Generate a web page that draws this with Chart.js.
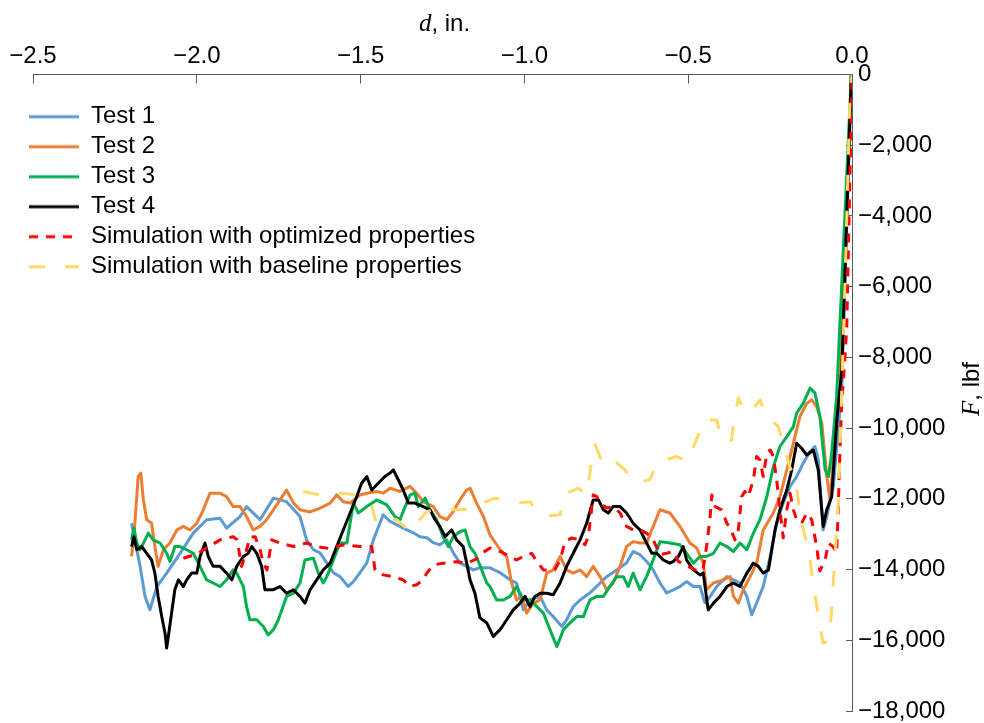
<!DOCTYPE html>
<html>
<head>
<meta charset="utf-8">
<script src="https://cdn.jsdelivr.net/npm/chart.js@4"></script>
<style>
  html, body { margin: 0; padding: 0; background: #ffffff; }
  #wrap { width: 984px; height: 723px; position: relative; }
</style>
</head>
<body>
<div id="wrap"><canvas id="c" width="984" height="723"></canvas></div>
<script>
// ---------------- DATA (d in inches, F in lbf) ----------------
const seriesLabels = ['Test 1', 'Test 2', 'Test 3', 'Test 4',
  'Simulation with optimized properties', 'Simulation with baseline properties'];

const xTickValues = [-2.5, -2.0, -1.5, -1.0, -0.5, 0.0];
const yTickValues = [0, -2000, -4000, -6000, -8000, -10000, -12000, -14000, -16000, -18000];

const test1D = [
  -2.199, -2.173, -2.158, -2.143, -2.122, -2.092, -2.051, -2.011, -1.970, -1.929,
  -1.909, -1.868, -1.848, -1.807, -1.766, -1.726, -1.685, -1.665, -1.644, -1.624,
  -1.603, -1.583, -1.563, -1.538, -1.522, -1.502, -1.481, -1.461, -1.431, -1.410,
  -1.380, -1.359, -1.339, -1.319, -1.298, -1.278, -1.258, -1.237, -1.217, -1.197,
  -1.176, -1.156, -1.136, -1.105, -1.074, -1.044, -1.024, -1.003, -0.983, -0.952,
  -0.932, -0.912, -0.886, -0.871, -0.851, -0.830, -0.800, -0.769, -0.749, -0.718,
  -0.688, -0.668, -0.647, -0.627, -0.607, -0.586, -0.566, -0.556, -0.525, -0.505,
  -0.484, -0.464, -0.449, -0.433, -0.413, -0.382, -0.342, -0.321, -0.306, -0.291,
  -0.271, -0.250, -0.230, -0.210, -0.189, -0.169, -0.149, -0.128, -0.113, -0.103,
  -0.088, -0.077, -0.057, -0.042, -0.031, -0.002];
const test1F = [
  -12690, -13910, -14760, -15140, -14480, -14100, -13540, -12970, -12590, -12550,
  -12830, -12500, -12220, -12590, -11980, -12080, -12500, -13160, -13440, -13530,
  -13810, -14090, -14200, -14480, -14340, -14090, -13810, -13160, -12450, -12640,
  -12780, -12880, -12960, -13070, -13100, -13240, -13300, -13160, -13530, -13810,
  -13910, -14010, -13950, -13950, -14090, -14290, -14380, -15140, -14860, -14760,
  -15140, -15330, -15610, -15420, -15050, -14860, -14660, -14380, -14200, -14010,
  -13810, -13490, -13580, -13770, -14010, -14380, -14660, -14620, -14480, -14340,
  -14480, -14480, -14940, -14760, -14480, -14200, -14380, -14760, -15280, -14940,
  -14480, -13630, -12690, -12120, -11650, -11370, -10990, -10660, -10520, -10900,
  -12880, -12500, -11650, -10050, -8830, 0];

const test2D = [
  -2.199, -2.189, -2.179, -2.171, -2.163, -2.153, -2.138, -2.128, -2.118, -2.102,
  -2.082, -2.061, -2.041, -2.021, -2.000, -1.980, -1.960, -1.929, -1.909, -1.889,
  -1.868, -1.848, -1.828, -1.807, -1.787, -1.766, -1.746, -1.726, -1.705, -1.685,
  -1.654, -1.624, -1.593, -1.573, -1.553, -1.532, -1.502, -1.481, -1.451, -1.431,
  -1.410, -1.380, -1.349, -1.329, -1.309, -1.278, -1.258, -1.237, -1.217, -1.197,
  -1.176, -1.166, -1.146, -1.125, -1.105, -1.074, -1.054, -1.039, -1.024, -1.008,
  -0.993, -0.973, -0.952, -0.932, -0.912, -0.891, -0.871, -0.851, -0.830, -0.810,
  -0.790, -0.769, -0.749, -0.729, -0.708, -0.688, -0.668, -0.647, -0.627, -0.607,
  -0.586, -0.556, -0.525, -0.495, -0.474, -0.454, -0.444, -0.423, -0.393, -0.372,
  -0.362, -0.347, -0.332, -0.311, -0.291, -0.271, -0.240, -0.220, -0.199, -0.179,
  -0.159, -0.138, -0.123, -0.108, -0.092, -0.077, -0.067, -0.052, -0.037, -0.002];
const test2F = [
  -13630, -12690, -11370, -11270, -12030, -12590, -12690, -13350, -13910, -13440,
  -13250, -12880, -12780, -12880, -12690, -12310, -11840, -11840, -11940, -12220,
  -12220, -12500, -12880, -12780, -12590, -12310, -12030, -11750, -12120, -12310,
  -12370, -12260, -12120, -11890, -12080, -12120, -11890, -11840, -11790, -11840,
  -11700, -11790, -11650, -11840, -12080, -12220, -12500, -12590, -12360, -12030,
  -11750, -11700, -12120, -12500, -13020, -13440, -13630, -14380, -14860, -14760,
  -15230, -14950, -14860, -14100, -14010, -13630, -14010, -14100, -14010, -14200,
  -13910, -14200, -14570, -14380, -13910, -13350, -13210, -13250, -13250, -12780,
  -12310, -12400, -12780, -13250, -13390, -13820, -14570, -14380, -14290, -14200,
  -14760, -14950, -14570, -14200, -13820, -12880, -12400, -11940, -11180, -10430,
  -9670, -9300, -9200, -9390, -9860, -11370, -12030, -10240, -8830, 0];

const test3D = [
  -2.199, -2.192, -2.183, -2.173, -2.158, -2.148, -2.133, -2.112, -2.092, -2.082,
  -2.067, -2.051, -2.031, -2.011, -1.990, -1.970, -1.950, -1.929, -1.909, -1.889,
  -1.878, -1.858, -1.848, -1.838, -1.817, -1.797, -1.782, -1.766, -1.751, -1.726,
  -1.705, -1.685, -1.670, -1.644, -1.629, -1.614, -1.603, -1.583, -1.563, -1.542,
  -1.522, -1.507, -1.481, -1.451, -1.420, -1.395, -1.380, -1.364, -1.349, -1.334,
  -1.324, -1.303, -1.288, -1.268, -1.248, -1.232, -1.217, -1.197, -1.181, -1.166,
  -1.151, -1.136, -1.115, -1.105, -1.085, -1.064, -1.044, -1.024, -1.003, -0.983,
  -0.962, -0.942, -0.922, -0.901, -0.881, -0.861, -0.840, -0.820, -0.800, -0.779,
  -0.759, -0.739, -0.718, -0.698, -0.683, -0.668, -0.647, -0.627, -0.607, -0.586,
  -0.556, -0.525, -0.505, -0.484, -0.464, -0.444, -0.423, -0.403, -0.382, -0.362,
  -0.342, -0.321, -0.301, -0.281, -0.260, -0.240, -0.220, -0.199, -0.179, -0.169,
  -0.149, -0.128, -0.113, -0.098, -0.082, -0.072, -0.062, -0.047, -0.002];
const test3F = [
  -13160, -12830, -13250, -13440, -13160, -12970, -13160, -13250, -13540, -13770,
  -13350, -13350, -13440, -13540, -13910, -14290, -14380, -14480, -14290, -14010,
  -14100, -14480, -15050, -15420, -15420, -15610, -15850, -15700, -15420, -14760,
  -14670, -14380, -13730, -13680, -14100, -14380, -14200, -13730, -13250, -13250,
  -12120, -12400, -12220, -12030, -12170, -12500, -12590, -12220, -11890, -11840,
  -12220, -11980, -12310, -12590, -13070, -13350, -13070, -12930, -12880, -13350,
  -13540, -13870, -14380, -14480, -14860, -14860, -14760, -14480, -14860, -14860,
  -15050, -15230, -15700, -16180, -15700, -15510, -15330, -15330, -14860, -14760,
  -14760, -14480, -14200, -14200, -14480, -14100, -14570, -14200, -13730, -13210,
  -13250, -13300, -13540, -13820, -13630, -13630, -13540, -13250, -13350, -13490,
  -13250, -13440, -12970, -12590, -11940, -11090, -10520, -10240, -9960, -9580,
  -9300, -8870, -9010, -9670, -11180, -11370, -10710, -9110, 0];

const test4D = [
  -2.199, -2.192, -2.183, -2.168, -2.153, -2.138, -2.128, -2.118, -2.107, -2.097,
  -2.092, -2.084, -2.077, -2.067, -2.056, -2.041, -2.031, -2.016, -2.000, -1.990,
  -1.975, -1.965, -1.950, -1.929, -1.909, -1.893, -1.878, -1.858, -1.843, -1.832,
  -1.817, -1.802, -1.792, -1.766, -1.746, -1.726, -1.705, -1.685, -1.670, -1.654,
  -1.634, -1.614, -1.593, -1.573, -1.553, -1.532, -1.512, -1.497, -1.481, -1.466,
  -1.446, -1.426, -1.410, -1.400, -1.385, -1.370, -1.354, -1.334, -1.309, -1.288,
  -1.273, -1.258, -1.242, -1.222, -1.207, -1.187, -1.176, -1.166, -1.151, -1.136,
  -1.115, -1.095, -1.074, -1.054, -1.034, -1.013, -0.998, -0.983, -0.968, -0.952,
  -0.932, -0.912, -0.891, -0.871, -0.851, -0.830, -0.810, -0.790, -0.774, -0.759,
  -0.744, -0.729, -0.708, -0.688, -0.668, -0.647, -0.627, -0.611, -0.596, -0.576,
  -0.556, -0.545, -0.530, -0.515, -0.505, -0.484, -0.464, -0.454, -0.439, -0.423,
  -0.403, -0.382, -0.362, -0.342, -0.321, -0.301, -0.286, -0.271, -0.255, -0.235,
  -0.220, -0.199, -0.184, -0.169, -0.154, -0.138, -0.118, -0.103, -0.088, -0.077,
  -0.062, -0.047, -0.031, -0.002];
const test4F = [
  -13350, -13070, -13440, -13350, -13540, -13730, -14100, -14760, -15330, -15800,
  -16220, -15700, -15230, -14570, -14290, -14480, -14290, -14100, -14100, -13630,
  -13250, -13630, -13910, -13910, -14100, -14290, -13910, -13630, -13540, -13350,
  -13540, -13910, -14570, -14570, -14480, -14670, -14570, -14760, -14950, -14570,
  -14290, -14010, -13820, -13350, -12880, -12400, -11940, -11560, -11370, -11750,
  -11560, -11370, -11270, -11180, -11460, -11750, -12120, -12120, -12220, -12310,
  -12590, -12780, -13070, -12880, -13160, -13350, -13820, -14290, -14670, -15360,
  -15510, -15890, -15700, -15420, -15140, -14950, -14760, -15050, -14760, -14670,
  -14670, -14710, -14380, -13910, -13540, -13160, -12690, -12030, -12030, -12310,
  -12400, -12220, -12220, -12400, -12690, -12880, -13250, -13540, -13540, -13730,
  -13820, -13770, -13630, -13350, -13730, -14010, -14150, -14100, -15140, -14950,
  -14760, -14480, -14380, -14480, -14100, -13820, -13910, -14100, -14010, -12880,
  -12310, -11750, -11180, -10430, -10570, -10760, -10620, -11180, -12780, -12310,
  -11940, -9860, -8350, 0];

const simOptD = [
  -2.041, -2.000, -1.970, -1.929, -1.889, -1.877, -1.863, -1.848, -1.838, -1.822,
  -1.807, -1.797, -1.786, -1.771, -1.746, -1.705, -1.665, -1.634, -1.593, -1.553,
  -1.502, -1.466, -1.456, -1.431, -1.400, -1.370, -1.349, -1.329, -1.309, -1.298,
  -1.278, -1.248, -1.207, -1.176, -1.146, -1.130, -1.105, -1.074, -1.044, -1.024,
  -1.003, -0.978, -0.962, -0.942, -0.907, -0.891, -0.876, -0.856, -0.830, -0.815,
  -0.805, -0.795, -0.790, -0.779, -0.769, -0.749, -0.729, -0.708, -0.688, -0.668,
  -0.647, -0.627, -0.607, -0.586, -0.566, -0.545, -0.530, -0.510, -0.489, -0.469,
  -0.454, -0.444, -0.433, -0.428, -0.418, -0.398, -0.382, -0.372, -0.357, -0.347,
  -0.337, -0.327, -0.317, -0.301, -0.291, -0.281, -0.271, -0.260, -0.250, -0.240,
  -0.230, -0.220, -0.210, -0.199, -0.189, -0.179, -0.169, -0.154, -0.138, -0.123,
  -0.108, -0.098, -0.082, -0.072, -0.057, -0.047, -0.042, -0.037, -0.031, -0.026,
  -0.016, -0.011, -0.001, 0.0];
const simOptF = [
  -13680, -13560, -13390, -13160, -13070, -13160, -13910, -13440, -13080, -13070,
  -13440, -13820, -14010, -13160, -13250, -13350, -13250, -13350, -13410, -13300,
  -13350, -13350, -14010, -14150, -14200, -14290, -14480, -14430, -14290, -14100,
  -13870, -13820, -13780, -13820, -13700, -13540, -13390, -13490, -13630, -13730,
  -13630, -13540, -13770, -14010, -14010, -13730, -13210, -13110, -13160, -13300,
  -13070, -12310, -11890, -11940, -12120, -12260, -12220, -12400, -12780, -12880,
  -12880, -12970, -13160, -13580, -13540, -13490, -13770, -13870, -13960, -14060,
  -13960, -13350, -12500, -11890, -12220, -12310, -12690, -12830, -13160, -12880,
  -11940, -11790, -11940, -11460, -10800, -10900, -11370, -10710, -10620, -10800,
  -11460, -12310, -13100, -12310, -11840, -12310, -12590, -12690, -12400, -12590,
  -13350, -14040, -13730, -13250, -13360, -13530, -12310, -10710, -9200, -8640,
  -7140, -4880, -620, 0];

const simBaseD = [
  -1.675, -1.624, -1.593, -1.553, -1.512, -1.487, -1.466, -1.451, -1.426, -1.390,
  -1.349, -1.325, -1.298, -1.268, -1.242, -1.217, -1.146, -1.120, -1.090, -1.044,
  -1.013, -0.983, -0.958, -0.922, -0.891, -0.881, -0.861, -0.835, -0.810, -0.803,
  -0.795, -0.784, -0.775, -0.764, -0.748, -0.729, -0.711, -0.693, -0.672, -0.647,
  -0.617, -0.596, -0.568, -0.535, -0.505, -0.488, -0.469, -0.459, -0.437, -0.413,
  -0.398, -0.382, -0.367, -0.362, -0.354, -0.347, -0.337, -0.324, -0.311, -0.281,
  -0.272, -0.260, -0.225, -0.214, -0.205, -0.189, -0.174, -0.164, -0.154, -0.138,
  -0.128, -0.118, -0.108, -0.098, -0.088, -0.076, -0.067, -0.061, -0.057, -0.052,
  -0.047, -0.042, -0.037, -0.021, -0.006, 0.0];
const simBaseF = [
  -11790, -11890, -11860, -11840, -11890, -12030, -12220, -12710, -12650, -12590,
  -12930, -12650, -12360, -12310, -12310, -12310, -12280, -12090, -11980, -12080,
  -12110, -12080, -12400, -12480, -12450, -11940, -11800, -11700, -11890, -11460,
  -10950, -10470, -10670, -10950, -10840, -10850, -11040, -11180, -11460, -11520,
  -11460, -10990, -10900, -10800, -10950, -10620, -10190, -9820, -9770, -9770,
  -10330, -10390, -10330, -9860, -9480, -9150, -9340, -9480, -9580, -9200,
  -9430, -9680, -9960, -10330, -10620, -11120, -11370, -12030, -12690, -13250,
  -13730, -14430, -15000, -15620, -16080, -16040, -15700, -15000, -14290, -13730,
  -12790, -12170, -10710, -5720, -520, 0];

// ---------------- helpers ----------------
function zip(ds, fs) { return ds.map((d, i) => ({ x: d, y: fs[i] })); }
const MINUS = '\u2212';
function fmtX(v) { return v === 0 ? '0.0' : MINUS + Math.abs(v).toFixed(1); }
function fmtY(v) { return v === 0 ? '0' : MINUS + Math.abs(v).toLocaleString('en-US'); }

const AXIS = '#595959';
const SANS = "'Liberation Sans', Arial, sans-serif";
const LINE_W = 3;
const SWATCH_W = 50;
Chart.defaults.font.family = SANS;
Chart.defaults.color = '#000000';

// small legend swatch (a line sample in the dataset's own style)
function swatch(color, dash, width) {
  const c = document.createElement('canvas');
  c.width = SWATCH_W; c.height = 8;
  const g = c.getContext('2d');
  g.strokeStyle = color; g.lineWidth = width; g.lineCap = 'butt';
  g.setLineDash(dash);
  g.beginPath(); g.moveTo(0, 4); g.lineTo(SWATCH_W, 4); g.stroke();
  return c;
}

function lineDs(label, data, color, order, dash) {
  return {
    label, data, order,
    borderColor: color, backgroundColor: color,
    borderWidth: LINE_W, borderDash: dash,
    borderCapStyle: 'butt', borderJoinStyle: 'round',
    pointStyle: swatch(color, dash, LINE_W),
    pointRadius: 0, pointHoverRadius: 0, tension: 0, fill: false
  };
}

const overlayPlugin = {
  id: 'overlay',
  afterLayout(chart) {
    const lg = chart.legend;
    if (lg) {
      lg.left = 23; lg.top = 98.7;
      lg.width = 540; lg.right = lg.left + 540;
      lg.bottom = chart.chartArea.bottom; lg.height = lg.bottom - lg.top;
    }
  },
  afterDraw(chart) {
    const ctx = chart.ctx, a = chart.chartArea;
    const serif = "italic 25px 'Liberation Serif', 'DejaVu Serif', serif";
    const sans = "24px " + SANS;
    ctx.save();
    ctx.fillStyle = '#000';
    ctx.textAlign = 'left';
    ctx.textBaseline = 'alphabetic';
    // top axis title: d, in.
    ctx.font = serif; const w1 = ctx.measureText('d').width;
    ctx.font = sans; const w2 = ctx.measureText(', in.').width;
    let x0 = (a.left + a.right) / 2 - (w1 + w2) / 2 + 2;
    ctx.font = serif; ctx.fillText('d', x0, 31);
    ctx.font = sans; ctx.fillText(', in.', x0 + w1, 31);
    // right axis title: F, lbf (rotated)
    ctx.translate(979, 389);
    ctx.rotate(-Math.PI / 2);
    ctx.font = serif; const v1 = ctx.measureText('F').width;
    ctx.font = sans; const v2 = ctx.measureText(', lbf').width;
    const s0 = -(v1 + v2) / 2;
    ctx.font = serif; ctx.fillText('F', s0, 0);
    ctx.font = sans; ctx.fillText(', lbf', s0 + v1, 0);
    ctx.restore();
  }
};

new Chart(document.getElementById('c'), {
  type: 'line',
  data: {
    datasets: [
      lineDs(seriesLabels[0], zip(test1D, test1F), '#5B9BD5', 5, []),
      lineDs(seriesLabels[1], zip(test2D, test2F), '#ED7D31', 4, []),
      lineDs(seriesLabels[2], zip(test3D, test3F), '#00B050', 3, []),
      lineDs(seriesLabels[3], zip(test4D, test4F), '#000000', 2, []),
      lineDs(seriesLabels[4], zip(simOptD, simOptF), '#FF0000', 1, [9, 8]),
      lineDs(seriesLabels[5], zip(simBaseD, simBaseF), '#FFD966', 0, [16, 20])
    ]
  },
  options: {
    responsive: false,
    animation: false,
    devicePixelRatio: 1,
    layout: { padding: { left: 33, right: 0, top: 0, bottom: 12 } },
    plugins: {
      legend: {
        display: true,
        position: 'chartArea',
        align: 'start',
        labels: {
          usePointStyle: true,
          pointStyleWidth: SWATCH_W,
          boxHeight: 24,
          padding: 6,
          color: '#000',
          font: { size: 24, family: SANS },
          sort: (p, q) => p.datasetIndex - q.datasetIndex
        }
      },
      tooltip: { enabled: false },
      title: { display: false }
    },
    scales: {
      x: {
        type: 'linear', position: 'top', min: -2.5, max: 0,
        afterBuildTicks: s => { s.ticks = xTickValues.map(v => ({ value: v })); },
        afterFit: s => { s.height = 74.5; s.paddingLeft = 0; s.paddingRight = 0; s.paddingTop = 0; s.paddingBottom = 0; },
        grid: { drawOnChartArea: false, drawTicks: true, tickLength: -9, tickColor: AXIS, tickWidth: 1 },
        border: { display: true, color: AXIS, width: 1 },
        ticks: { color: '#000', font: { size: 24 }, padding: 12.4, maxRotation: 0, minRotation: 0, autoSkip: false, callback: v => fmtX(v) }
      },
      y: {
        type: 'linear', position: 'right', min: -18000, max: 0,
        afterBuildTicks: s => { s.ticks = yTickValues.map(v => ({ value: v })); },
        afterFit: s => { s.width = 132; s.paddingLeft = 0; s.paddingRight = 0; s.paddingTop = 0; s.paddingBottom = 0; },
        grid: { drawOnChartArea: false, drawTicks: true, tickLength: -6, tickColor: AXIS, tickWidth: 1 },
        border: { display: true, color: AXIS, width: 1 },
        ticks: { color: '#000', font: { size: 24 }, padding: 12, autoSkip: false, callback: v => fmtY(v) }
      }
    }
  },
  plugins: [overlayPlugin]
});
</script>
</body>
</html>
